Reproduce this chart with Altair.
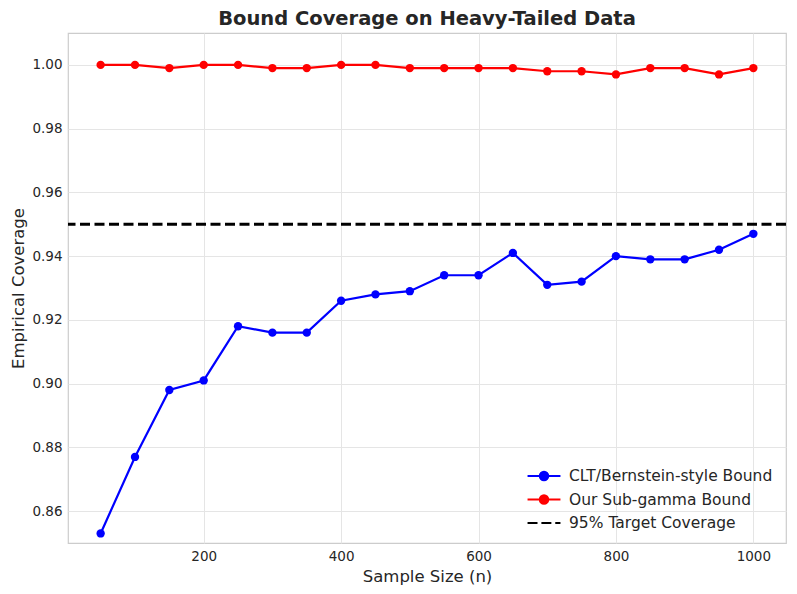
import altair as alt
import pandas as pd

sample_sizes = [50, 100, 150, 200, 250, 300, 350, 400, 450, 500,
                550, 600, 650, 700, 750, 800, 850, 900, 950, 1000]
clt_coverage = [0.853, 0.877, 0.898, 0.901, 0.918, 0.916, 0.916, 0.926, 0.928, 0.929,
                0.934, 0.934, 0.941, 0.931, 0.932, 0.940, 0.939, 0.939, 0.942, 0.947]
subgamma_coverage = [1.000, 1.000, 0.999, 1.000, 1.000, 0.999, 0.999, 1.000, 1.000, 0.999,
                     0.999, 0.999, 0.999, 0.998, 0.998, 0.997, 0.999, 0.999, 0.997, 0.999]
target = 0.95
series_names = ["CLT/Bernstein-style Bound", "Our Sub-gamma Bound", "95% Target Coverage"]
series_colors = ["#0000ff", "#ff0000", "#000000"]

rows = []
for n, v in zip(sample_sizes, clt_coverage):
    rows.append({"n": n, "coverage": v, "series": series_names[0]})
for n, v in zip(sample_sizes, subgamma_coverage):
    rows.append({"n": n, "coverage": v, "series": series_names[1]})
df = pd.DataFrame(rows)
target_df = pd.DataFrame({"coverage": [target], "series": [series_names[2]]})
legend_df = pd.DataFrame({"series": series_names})

FONT = "DejaVu Sans"
xscale = alt.Scale(domain=[2.5, 1047.5], nice=False, zero=False)
yscale = alt.Scale(domain=[0.85, 1.01], nice=False, zero=False)
cscale = alt.Scale(domain=series_names[:2], range=series_colors[:2])

x_enc = alt.X("n:Q", scale=xscale, title="Sample Size (n)",
              axis=alt.Axis(values=[200, 400, 600, 800, 1000], format="d"))
y_enc = alt.Y("coverage:Q", scale=yscale, title="Empirical Coverage",
              axis=alt.Axis(values=[0.86, 0.88, 0.90, 0.92, 0.94, 0.96, 0.98, 1.00], format=".2f"))

base = alt.Chart(df)
lines = base.mark_line(strokeWidth=2.2).encode(
    x=x_enc, y=y_enc,
    color=alt.Color("series:N", scale=cscale, legend=None),
)
points = base.mark_point(filled=True, size=70, opacity=1).encode(
    x="n:Q", y="coverage:Q",
    color=alt.Color("series:N", scale=cscale, legend=None),
)
rule = alt.Chart(target_df).mark_rule(strokeWidth=2.8, strokeDash=[10, 4.5], color="black").encode(
    y="coverage:Q",
)

line_circle = "M-1.9,0L1.9,0M-0.48,0A0.48,0.48 0 1,1 0.48,0A0.48,0.48 0 1,1 -0.48,0Z"
dash_path = "M-1.9,0L-0.75,0M-0.3,0L0.85,0M1.3,0L1.9,0"
legend_layer = alt.Chart(legend_df).mark_point(filled=True, opacity=1).transform_filter(
    "datum.series == 'none'"
).encode(
    fill=alt.Fill("series:N", scale=alt.Scale(domain=series_names, range=series_colors),
                  title=None,
                  legend=alt.Legend(orient="none", legendX=466, legendY=433,
                                    symbolSize=300, symbolStrokeWidth=2.2,
                                    labelFontSize=15.5, labelFont=FONT, labelColor="#262626",
                                    labelLimit=0, rowPadding=4.5, labelOffset=15, padding=0)),
    stroke=alt.Stroke("series:N", scale=alt.Scale(domain=series_names, range=series_colors),
                      title=None),
    shape=alt.Shape("series:N", scale=alt.Scale(domain=series_names,
                                                range=[line_circle, line_circle, dash_path]),
                    title=None),
)

chart = alt.layer(lines, points, rule, legend_layer).properties(
    width=718, height=510,
    title=alt.Title("Bound Coverage on Heavy-Tailed Data", font=FONT, fontSize=19.5,
                    fontWeight="bold", color="#262626", offset=4),
    autosize=alt.AutoSizeParams(type="none"),
    padding={"left": 60, "top": 25, "right": 3, "bottom": 43},
).configure_view(
    stroke="#cccccc", strokeWidth=1.2
).configure_axis(
    grid=True, gridColor="#e5e5e5", gridWidth=1, domain=False, ticks=False,
    labelFont=FONT, labelFontSize=13.5, labelColor="#262626", labelPadding=6,
    titleFont=FONT, titleFontSize=16.5, titleFontWeight="normal", titleColor="#262626",
).configure_axisX(titlePadding=6).configure_axisY(titlePadding=5)

chart.save("out.html", embed_options={"renderer": "svg", "actions": False})
